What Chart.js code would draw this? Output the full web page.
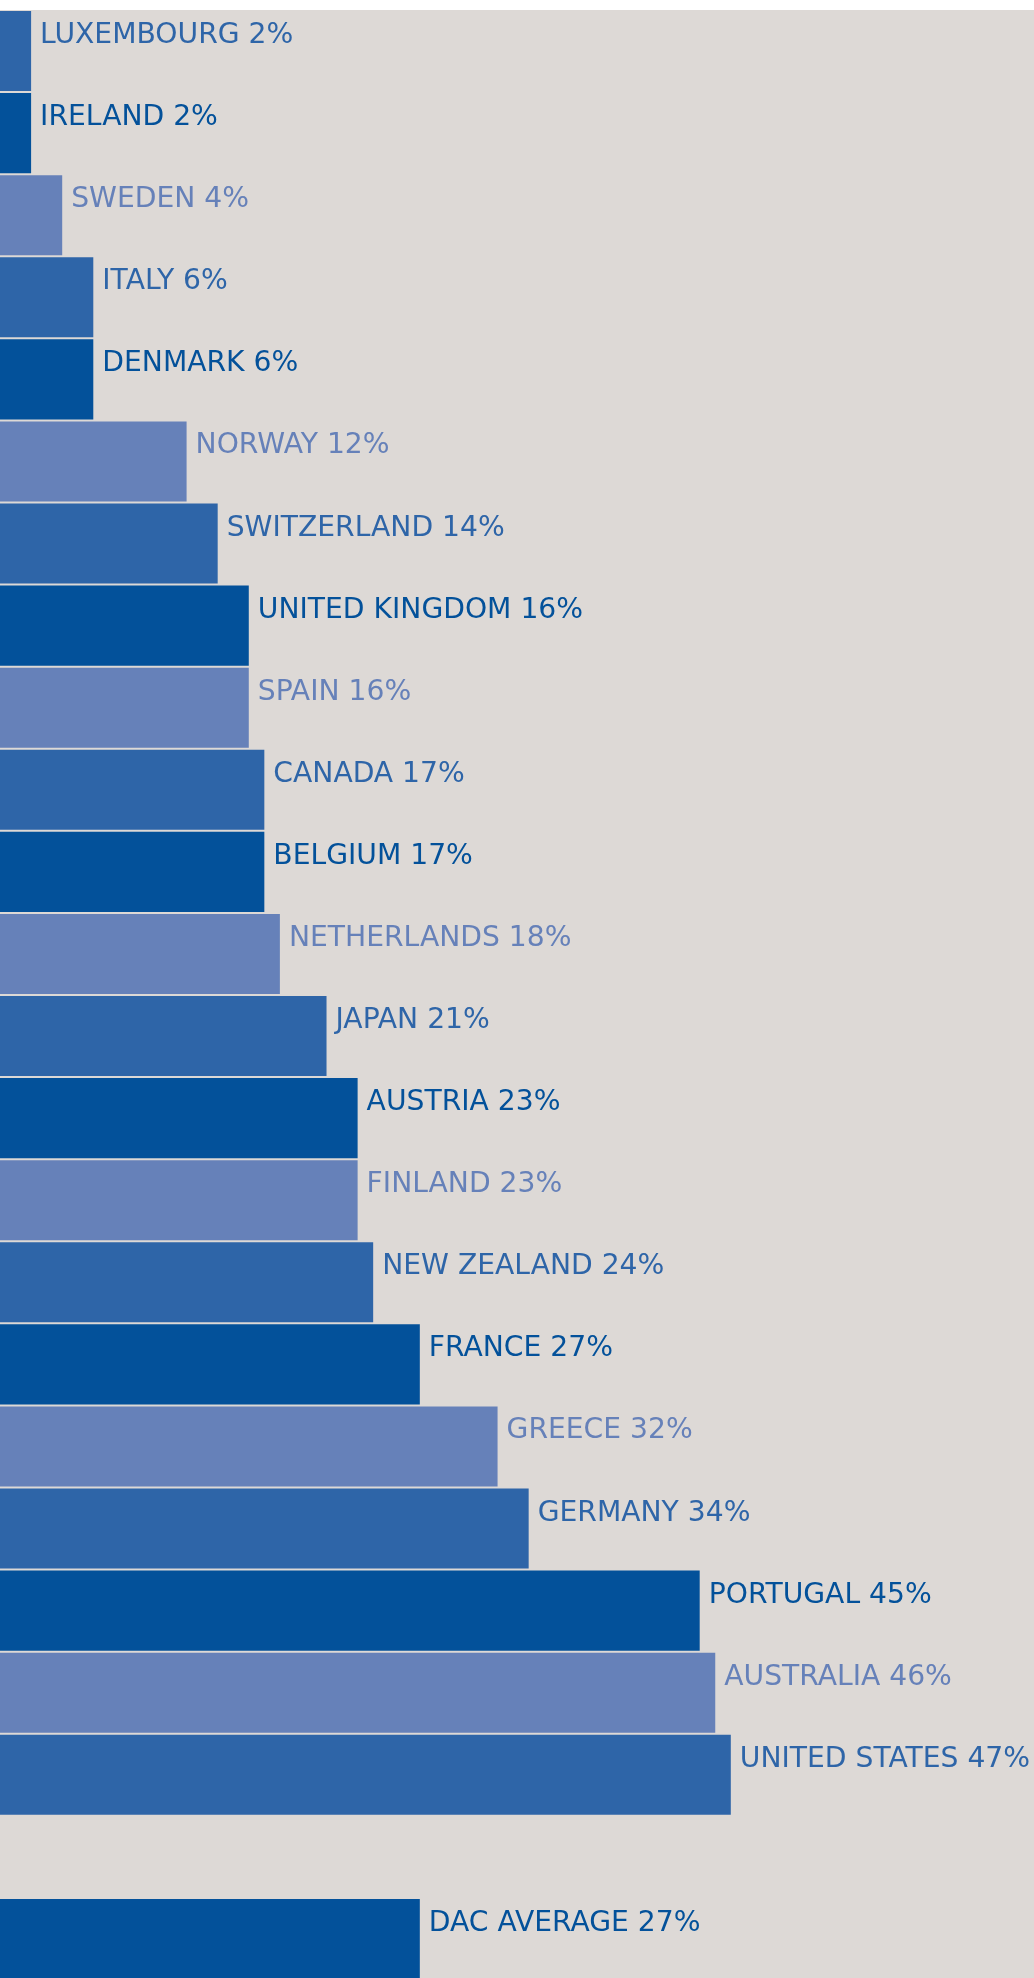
<!DOCTYPE html>
<html>
<head>
<meta charset="utf-8">
<script src="https://cdn.jsdelivr.net/npm/chart.js@4/dist/chart.umd.min.js"></script>
<style>
  html, body { margin: 0; padding: 0; background: #ffffff; overflow: hidden; }
  #wrap { width: 1034px; height: 1980px; position: relative; }
</style>
</head>
<body>
<div id="wrap"><canvas id="chart"></canvas></div>
<script>
// donors, smallest share first; '' is the empty gap row before the DAC average
const countries = [
  'LUXEMBOURG', 'IRELAND', 'SWEDEN', 'ITALY', 'DENMARK', 'NORWAY', 'SWITZERLAND',
  'UNITED KINGDOM', 'SPAIN', 'CANADA', 'BELGIUM', 'NETHERLANDS', 'JAPAN', 'AUSTRIA',
  'FINLAND', 'NEW ZEALAND', 'FRANCE', 'GREECE', 'GERMANY', 'PORTUGAL', 'AUSTRALIA',
  'UNITED STATES', '', 'DAC AVERAGE'
];
const shares = [2, 2, 4, 6, 6, 12, 14, 16, 16, 17, 17, 18, 21, 23, 23, 24, 27, 32, 34, 45, 46, 47, null, 27];

// three blues repeat down the list
const palette = ['#2e65a8', '#03519a', '#6681b9'];
const barColors = countries.map((c, i) => (c === 'DAC AVERAGE' ? palette[1] : palette[i % 3]));

const bgPlugin = {
  id: 'bg',
  beforeDraw(chart) {
    const { ctx, chartArea } = chart;
    ctx.save();
    ctx.fillStyle = '#ddd9d6';
    ctx.fillRect(0, chartArea.top, chart.width, chart.height - chartArea.top);
    ctx.restore();
  }
};

const labelPlugin = {
  id: 'barLabels',
  afterDatasetsDraw(chart) {
    const { ctx } = chart;
    const meta = chart.getDatasetMeta(0);
    ctx.save();
    ctx.font = '28.2px "DejaVu Sans", sans-serif';
    ctx.textBaseline = 'alphabetic';
    ctx.textAlign = 'left';
    meta.data.forEach((bar, i) => {
      if (shares[i] === null) return;
      ctx.fillStyle = barColors[i];
      ctx.fillText(countries[i] + ' ' + shares[i] + '%', bar.x + 9, bar.y - 8);
    });
    ctx.restore();
  }
};

new Chart(document.getElementById('chart'), {
  type: 'bar',
  data: {
    labels: countries,
    datasets: [{
      data: shares,
      backgroundColor: barColors,
      borderWidth: 0,
      categoryPercentage: 1,
      barPercentage: 80 / 82
    }]
  },
  options: {
    indexAxis: 'y',
    responsive: true,
    maintainAspectRatio: false,
    animation: false,
    layout: { padding: { top: 10, left: 0, right: 0, bottom: 0 } },
    plugins: {
      legend: { display: false },
      tooltip: { enabled: false }
    },
    scales: {
      x: { display: false, min: 0, max: 66.5 },
      y: { display: false }
    }
  },
  plugins: [bgPlugin, labelPlugin]
});
</script>
</body>
</html>
